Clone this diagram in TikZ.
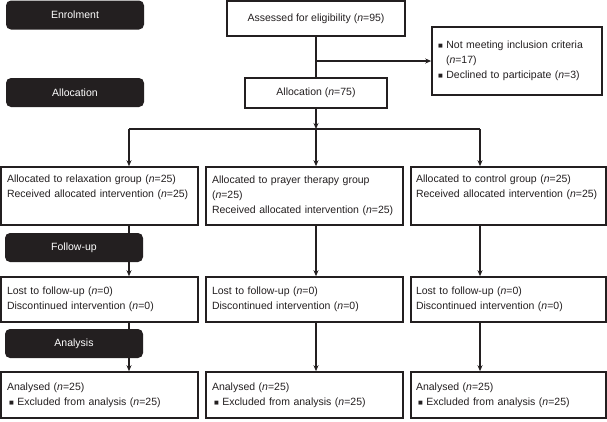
\documentclass[tikz,border=0pt]{standalone}
\usepackage{fontspec}
\setmainfont{Liberation Sans}
\usepackage{tikz}
\usetikzlibrary{arrows.meta, positioning}
\definecolor{inkdark}{RGB}{35,31,32}
\newcommand{\sqbullet}{{\fontsize{8}{8}\selectfont ■}}
\tikzstyle{stagebox} = [rectangle, rounded corners=5pt, minimum width=138pt, minimum height=29pt, text centered, fill=inkdark, text=white, font=\fontsize{10.5}{15}\selectfont]
\tikzstyle{flowbox} = [rectangle, draw=inkdark, line width=1.6pt, text centered, text=inkdark, font=\fontsize{10.5}{15}\selectfont]
\tikzstyle{groupbox} = [rectangle, draw=inkdark, line width=1.6pt, align=left, inner xsep=6pt, text=inkdark, font=\fontsize{10.5}{15}\selectfont]
\tikzstyle{arrow} = [line width=1.1pt, draw=inkdark, -{Stealth[length=6pt,width=5pt]}]
\tikzstyle{link} = [line width=1.1pt, draw=inkdark]

\begin{document}
\begin{tikzpicture}[x=1pt, y=-1pt]
\useasboundingbox (0,0) rectangle (607,421);

% stage labels on the left
\node (enrol) [stagebox] at (75,15) {Enrolment};
\node (allocstage) [stagebox] at (75,92.5) {Allocation};

% enrolment and allocation
\node (assess) [flowbox, minimum width=178pt, minimum height=35pt] at (316,18.5) {Assessed for eligibility (\textit{n}=95)};
\node (alloc) [flowbox, minimum width=142pt, minimum height=30pt] at (316,93) {Allocation (\textit{n}=75)};
\node (excluded) [groupbox, text width=158pt, minimum height=68pt] at (517,61) {\sqbullet\ Not meeting inclusion criteria\\\hspace*{8pt}(\textit{n}=17)\\\sqbullet\ Declined to participate (\textit{n}=3)};

% groups
\node (relax) [groupbox, text width=185pt, minimum height=58pt] at (99.5,196) {Allocated to relaxation group (\textit{n}=25)\\Received allocated intervention (\textit{n}=25)\\\strut};
\node (prayer) [groupbox, text width=185pt, minimum height=58pt] at (304.5,196) {Allocated to prayer therapy group\\(\textit{n}=25)\\Received allocated intervention (\textit{n}=25)};
\node (control) [groupbox, text width=185pt, inner xsep=5pt, minimum height=58pt] at (508.5,196) {Allocated to control group (\textit{n}=25)\\Received allocated intervention (\textit{n}=25)\\\strut};

% follow-up
\node (lostrelax) [groupbox, text width=185pt, minimum height=45pt] at (99.5,299.5) {Lost to follow-up (\textit{n}=0)\\Discontinued intervention (\textit{n}=0)};
\node (lostprayer) [groupbox, text width=185pt, minimum height=45pt] at (304.5,299.5) {Lost to follow-up (\textit{n}=0)\\Discontinued intervention (\textit{n}=0)};
\node (lostcontrol) [groupbox, text width=185pt, inner xsep=5pt, minimum height=45pt] at (508.5,299.5) {Lost to follow-up (\textit{n}=0)\\Discontinued intervention (\textit{n}=0)};

% analysis
\node (anrelax) [groupbox, text width=185pt, minimum height=46pt] at (99.5,395) {Analysed (\textit{n}=25)\\\hspace*{2pt}\sqbullet\ Excluded from analysis (\textit{n}=25)};
\node (anprayer) [groupbox, text width=185pt, minimum height=46pt] at (304.5,395) {Analysed (\textit{n}=25)\\\hspace*{2pt}\sqbullet\ Excluded from analysis (\textit{n}=25)};
\node (ancontrol) [groupbox, text width=185pt, inner xsep=5pt, minimum height=46pt] at (508.5,395) {Analysed (\textit{n}=25)\\\hspace*{2pt}\sqbullet\ Excluded from analysis (\textit{n}=25)};

\coordinate (split) at (assess.south |- excluded.west);
\coordinate (branch) at (316,129);
\coordinate (leftend) at (129,129);
\coordinate (rightend) at (480,129);

\draw [link] (assess) -- (alloc);
\draw [arrow] (split) -- (excluded);
\draw [arrow] (alloc) -- (branch);
\draw [link] (leftend) -- (rightend);
\draw [arrow] (leftend) -- (leftend |- relax.north);
\draw [arrow] (branch) -- (branch |- prayer.north);
\draw [arrow] (rightend) -- (rightend |- control.north);

\draw [arrow] (relax.south -| leftend) -- (lostrelax.north -| leftend);
\draw [arrow] (prayer.south -| branch) -- (lostprayer.north -| branch);
\draw [arrow] (control.south -| rightend) -- (lostcontrol.north -| rightend);
\draw [arrow] (lostrelax.south -| leftend) -- (anrelax.north -| leftend);
\draw [arrow] (lostprayer.south -| branch) -- (anprayer.north -| branch);
\draw [arrow] (lostcontrol.south -| rightend) -- (ancontrol.north -| rightend);

% stage labels drawn over the left column
\node (followstage) [stagebox] at (74,247.5) {Follow-up};
\node (analysisstage) [stagebox] at (74,343.5) {Analysis};
\end{tikzpicture}
\end{document}
